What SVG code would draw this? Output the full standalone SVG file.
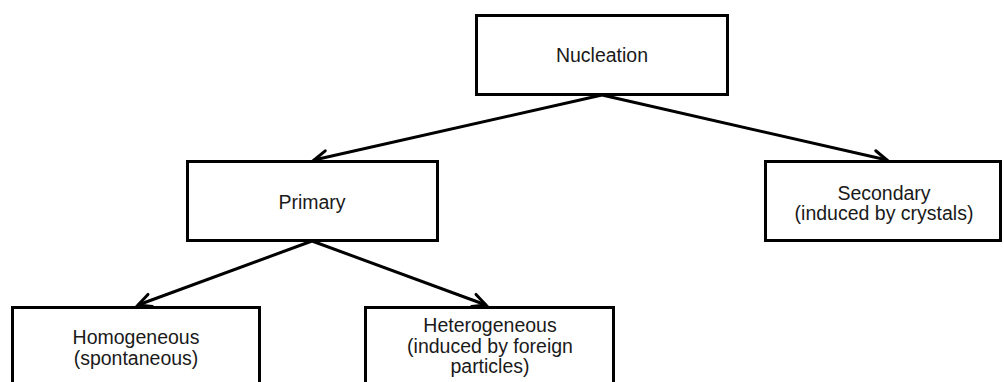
<svg xmlns="http://www.w3.org/2000/svg" width="1004" height="382" viewBox="0 0 1004 382">
  <defs>
    <style>
      .box { fill: #ffffff; stroke: #000000; stroke-width: 3; }
      .label { font-family: "Liberation Sans", Arial, sans-serif; font-size: 19.5px; fill: #1a1a1a; text-anchor: middle; }
      .link { stroke: #000000; stroke-width: 3; fill: none; marker-end: url(#arrow); }
    </style>
    <marker id="arrow" markerUnits="userSpaceOnUse" markerWidth="20" markerHeight="20" refX="0" refY="0" viewBox="-16 -10 20 20" orient="auto">
      <path d="M -13 -6.5 L 0 0 L -13 6.5" fill="none" stroke="#000000" stroke-width="3" stroke-linecap="round" stroke-linejoin="miter"/>
    </marker>
  </defs>
  <rect width="1004" height="382" fill="#ffffff"/>

  <!-- connectors -->
  <g id="connectors">
    <line class="link" x1="602" y1="95" x2="314" y2="160"/>
    <line class="link" x1="602" y1="95" x2="887" y2="160"/>
    <line class="link" x1="312" y1="241" x2="138" y2="305"/>
    <line class="link" x1="312" y1="241" x2="486" y2="305"/>
  </g>

  <g id="nucleation">
    <rect class="box" x="476.5" y="15.5" width="251" height="79"/>
    <text class="label" x="602" y="62">Nucleation</text>
  </g>

  <g id="primary">
    <rect class="box" x="187.5" y="161.5" width="250" height="79"/>
    <text class="label" x="312" y="209">Primary</text>
  </g>

  <g id="secondary">
    <rect class="box" x="765.5" y="161.5" width="235" height="79"/>
    <text class="label" x="884" y="200">Secondary</text>
    <text class="label" x="884" y="220">(induced by crystals)</text>
  </g>

  <g id="homogeneous">
    <rect class="box" x="12.5" y="307.5" width="247" height="90"/>
    <text class="label" x="136" y="344">Homogeneous</text>
    <text class="label" x="136" y="365">(spontaneous)</text>
  </g>

  <g id="heterogeneous">
    <rect class="box" x="365.5" y="307.5" width="248" height="90"/>
    <text class="label" x="490" y="332">Heterogeneous</text>
    <text class="label" x="490" y="353">(induced by foreign</text>
    <text class="label" x="490" y="373">particles)</text>
  </g>
</svg>
